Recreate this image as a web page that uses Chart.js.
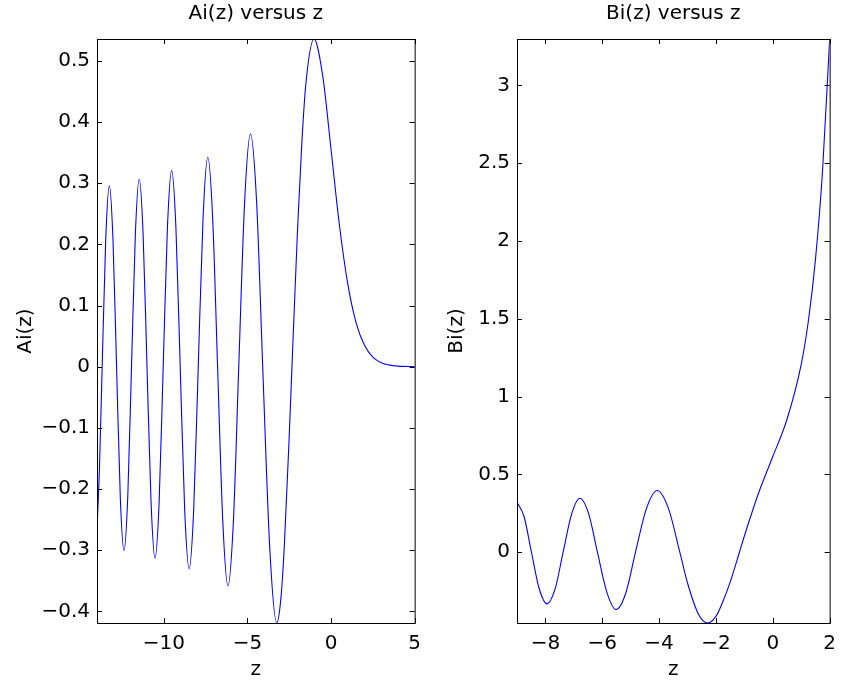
<!DOCTYPE html>
<html>
<head>
<meta charset="utf-8">
<script src="https://cdn.jsdelivr.net/npm/chart.js@4.4.1/dist/chart.umd.min.js"></script>
<style>
  html, body { margin: 0; padding: 0; background: #fff; }
  #wrap { position: relative; width: 845px; height: 684px; }
  canvas { position: absolute; top: 0; }
  #ai-chart { left: 0; }
  #bi-chart { left: 430px; }
</style>
</head>
<body>
<div id="wrap">
  <canvas id="ai-chart" width="430" height="684"></canvas>
  <canvas id="bi-chart" width="415" height="684"></canvas>
</div>
<script>
// Ai(z) on [-14, 5]: extrema, zero crossings and the points between them
const aiZ = [
  -14.0, -13.85, -13.691, -13.477, -13.262, -13.046, -12.829, -12.607, -12.385, -12.16,
  -11.936, -11.705, -11.475, -11.242, -11.009, -10.768, -10.528, -10.284, -10.04, -9.788,
  -9.535, -9.279, -9.023, -8.756, -8.488, -8.216, -7.944, -7.658, -7.372, -7.08,
  -6.787, -6.475, -6.163, -5.842, -5.521, -5.17, -4.82, -4.454, -4.088, -3.668,
  -3.248, -3.0, -2.793, -2.5, -2.338, -2.0, -1.75, -1.5, -1.019, -0.5,
  0, 0.5, 1.0, 1.5, 2.0, 2.5, 3.0, 3.5, 4.0, 5.0
];
const aiValues = [
  -0.266, -0.163, 0, 0.209, 0.2956, 0.209, 0, -0.213, -0.3007, -0.213,
  0, 0.217, 0.3065, 0.217, 0, -0.221, -0.3132, -0.222, 0, 0.227,
  0.321, 0.227, 0, -0.234, -0.3305, -0.234, 0, 0.242, 0.3423, 0.242,
  0, -0.253, -0.3579, -0.253, 0, 0.269, 0.3804, 0.27, 0, -0.296,
  -0.419, -0.3788, -0.292, -0.1123, 0, 0.2274, 0.365, 0.4642, 0.5357, 0.4757,
  0.355, 0.2317, 0.1353, 0.0717, 0.0349, 0.0157, 0.0066, 0.0026, 0.001, 0.0001
];
const aiXRange = [-14, 5];
const aiYRange = [-0.419, 0.5357];
const aiXTicks = [-10, -5, 0, 5];
const aiYTicks = [-0.4, -0.3, -0.2, -0.1, 0, 0.1, 0.2, 0.3, 0.4, 0.5];

// Bi(z) on [-9, 2]
const biZ = [
  -9.0, -8.75, -8.492, -8.218, -7.944, -7.66, -7.377, -7.082, -6.787, -6.478,
  -6.17, -5.841, -5.512, -5.171, -4.831, -4.452, -4.073, -3.672, -3.271, -3.0,
  -2.6, -2.294, -2.0, -1.75, -1.5, -1.174, -1.0, -0.5, 0, 0.5,
  1.0, 1.25, 1.5, 1.75, 2.0
];
const biValues = [
  0.3215, 0.228, 0, -0.235, -0.3318, -0.236, 0, 0.243, 0.3466, 0.246,
  0, -0.256, -0.368, -0.262, 0, 0.277, 0.3965, 0.282, 0, -0.198,
  -0.404, -0.4549, -0.4123, -0.314, -0.1918, 0, 0.104, 0.3804, 0.6149, 0.8543,
  1.2074, 1.484, 1.8789, 2.45, 3.2981
];
const biXRange = [-9, 2];
const biYRange = [-0.4549, 3.2981];
const biXTicks = [-8, -6, -4, -2, 0, 2];
const biYTicks = [0, 0.5, 1, 1.5, 2, 2.5, 3];

Chart.defaults.font.family = 'DejaVu Sans';
Chart.defaults.font.size = 20;
Chart.defaults.color = '#000';

const toPoints = (xs, ys) => xs.map((x, i) => ({ x: x, y: ys[i] }));

// tick text with a real minus sign
const tickText = (v) => {
  const r = Math.round(v * 10) / 10;
  return (r < 0 ? '\u2212' : '') + Math.abs(r);
};

// axes box with inward tick marks on all four sides
const boxTicks = {
  id: 'boxTicks',
  afterDraw(chart) {
    const { ctx, chartArea: a, scales } = chart;
    const len = 5;
    ctx.save();
    ctx.strokeStyle = '#000';
    ctx.lineWidth = 1;
    ctx.beginPath();
    scales.x.ticks.forEach((t) => {
      const px = Math.round(scales.x.getPixelForValue(t.value)) + 0.5;
      ctx.moveTo(px, a.bottom); ctx.lineTo(px, a.bottom - len);
      ctx.moveTo(px, a.top); ctx.lineTo(px, a.top + len);
    });
    scales.y.ticks.forEach((t) => {
      const py = Math.round(scales.y.getPixelForValue(t.value)) + 0.5;
      ctx.moveTo(a.left, py); ctx.lineTo(a.left + len, py);
      ctx.moveTo(a.right, py); ctx.lineTo(a.right - len, py);
    });
    ctx.stroke();
    ctx.strokeRect(a.left + 0.5, a.top + 0.5, a.right - a.left, a.bottom - a.top);
    ctx.restore();
  }
};

const makeChart = (id, opts) => {
  const ctx = document.getElementById(id).getContext('2d');
  return new Chart(ctx, {
    type: 'line',
    data: {
      datasets: [{
        data: toPoints(opts.xs, opts.ys),
        borderColor: '#0000ff',
        borderWidth: 1.1,
        pointRadius: 0,
        fill: false,
        cubicInterpolationMode: 'monotone'
      }]
    },
    options: {
      responsive: false,
      animation: false,
      devicePixelRatio: 1,
      layout: { padding: { left: 0, right: opts.padRight, top: 0, bottom: 0 } },
      plugins: {
        legend: { display: false },
        tooltip: { enabled: false },
        title: {
          display: true,
          text: opts.title,
          fullSize: false,
          font: { size: 20, weight: 'normal' },
          padding: { top: 2, bottom: 13 }
        }
      },
      scales: {
        x: {
          type: 'linear',
          min: opts.xRange[0],
          max: opts.xRange[1],
          afterBuildTicks: (scale) => { scale.ticks = opts.xTicks.map((v) => ({ value: v })); },
          afterFit: (scale) => { scale.height = 61; },
          grid: { display: false, drawTicks: false },
          border: { display: false },
          ticks: { padding: 9, autoSkip: false, maxRotation: 0, callback: tickText },
          title: { display: true, text: 'z', padding: { top: 0, bottom: 2 } }
        },
        y: {
          type: 'linear',
          min: opts.yRange[0],
          max: opts.yRange[1],
          afterBuildTicks: (scale) => { scale.ticks = opts.yTicks.map((v) => ({ value: v })); },
          afterFit: (scale) => { scale.width = opts.yWidth; },
          grid: { display: false, drawTicks: false },
          border: { display: false },
          ticks: { padding: 7, autoSkip: false, callback: tickText },
          title: { display: true, text: opts.yLabel, padding: { top: opts.yTitlePad, bottom: 0 } }
        }
      }
    },
    plugins: [boxTicks]
  });
};

makeChart('ai-chart', {
  xs: aiZ, ys: aiValues,
  xRange: aiXRange, yRange: aiYRange,
  xTicks: aiXTicks, yTicks: aiYTicks,
  title: 'Ai(z) versus z', yLabel: 'Ai(z)',
  yWidth: 97, padRight: 13, yTitlePad: 14
});

makeChart('bi-chart', {
  xs: biZ, ys: biValues,
  xRange: biXRange, yRange: biYRange,
  xTicks: biXTicks, yTicks: biYTicks,
  title: 'Bi(z) versus z', yLabel: 'Bi(z)',
  yWidth: 87, padRight: 8, yTitlePad: 15
});
</script>
</body>
</html>
